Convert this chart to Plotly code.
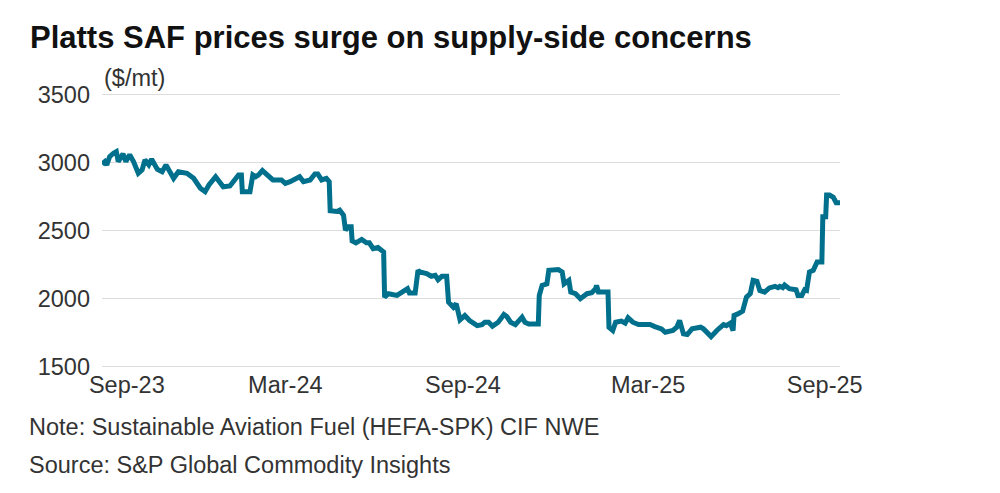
import plotly.graph_objects as go

# Platts SAF (HEFA-SPK) CIF NWE, $/mt
dates = [
    "2023-08-06", "2023-08-09", "2023-08-11", "2023-08-14", "2023-08-18", "2023-08-21",
    "2023-08-23", "2023-08-28", "2023-08-31", "2023-09-04", "2023-09-08", "2023-09-13",
    "2023-09-17", "2023-09-20", "2023-09-24", "2023-09-27", "2023-10-03", "2023-10-08",
    "2023-10-12", "2023-10-20", "2023-10-25", "2023-11-03", "2023-11-10", "2023-11-17",
    "2023-11-22", "2023-11-26", "2023-12-03", "2023-12-11", "2023-12-18", "2023-12-27",
    "2023-12-30", "2023-12-31", "2024-01-08", "2024-01-11", "2024-01-14", "2024-01-17",
    "2024-01-21", "2024-02-01", "2024-02-10", "2024-02-14", "2024-02-19", "2024-02-29",
    "2024-03-04", "2024-03-11", "2024-03-16", "2024-03-19", "2024-03-23", "2024-03-28",
    "2024-03-31", "2024-04-01", "2024-04-08", "2024-04-11", "2024-04-15", "2024-04-17",
    "2024-04-20", "2024-04-23", "2024-04-24", "2024-04-28", "2024-05-04", "2024-05-09",
    "2024-05-12", "2024-05-16", "2024-05-21", "2024-05-27", "2024-05-28", "2024-06-01",
    "2024-06-10", "2024-06-15", "2024-06-21", "2024-06-23", "2024-06-29", "2024-07-02",
    "2024-07-04", "2024-07-11", "2024-07-16", "2024-07-20", "2024-07-23", "2024-07-27",
    "2024-08-01", "2024-08-03", "2024-08-08", "2024-08-11", "2024-08-15", "2024-08-20",
    "2024-08-25", "2024-09-02", "2024-09-07", "2024-09-10", "2024-09-14", "2024-09-18",
    "2024-09-24", "2024-09-30", "2024-10-03", "2024-10-07", "2024-10-12", "2024-10-19",
    "2024-10-22", "2024-10-26", "2024-11-05", "2024-11-06", "2024-11-09", "2024-11-14",
    "2024-11-16", "2024-11-26", "2024-11-30", "2024-12-02", "2024-12-07", "2024-12-09",
    "2024-12-14", "2024-12-19", "2024-12-26", "2024-12-31", "2025-01-04", "2025-01-05",
    "2025-01-07", "2025-01-17", "2025-01-18", "2025-01-22", "2025-01-25", "2025-01-31",
    "2025-02-04", "2025-02-07", "2025-02-12", "2025-02-18", "2025-03-02", "2025-03-07",
    "2025-03-14", "2025-03-18", "2025-03-26", "2025-03-30", "2025-04-02", "2025-04-06",
    "2025-04-10", "2025-04-15", "2025-04-24", "2025-04-27", "2025-05-02", "2025-05-05",
    "2025-05-11", "2025-05-14", "2025-05-18", "2025-05-21", "2025-05-25", "2025-05-28",
    "2025-05-29", "2025-06-02", "2025-06-07", "2025-06-11", "2025-06-15", "2025-06-18",
    "2025-06-22", "2025-06-25", "2025-06-30", "2025-07-05", "2025-07-11", "2025-07-14",
    "2025-07-16", "2025-07-19", "2025-07-21", "2025-07-26", "2025-08-02", "2025-08-04",
    "2025-08-08", "2025-08-11", "2025-08-13", "2025-08-16", "2025-08-20", "2025-08-24",
    "2025-08-29", "2025-08-30", "2025-09-02", "2025-09-03", "2025-09-06", "2025-09-10",
    "2025-09-13", "2025-09-17",
]
prices = [
    2988, 3007, 2983, 3044, 3069, 3081,
    3007, 3064, 3007, 3057, 3007, 2921,
    2946, 3020, 2983, 3025, 2950, 2933,
    2983, 2884, 2933, 2921, 2884, 2811,
    2786, 2835, 2896, 2822, 2828, 2909,
    2909, 2786, 2786, 2909, 2896, 2909,
    2941, 2872, 2872, 2847, 2859, 2896,
    2859, 2872, 2916, 2916, 2872, 2884,
    2859, 2645, 2640, 2650, 2613, 2502,
    2527, 2527, 2424, 2409, 2434, 2409,
    2409, 2367, 2375, 2342, 2010, 2035,
    2022, 2047, 2072, 2040, 2040, 2207,
    2195, 2183, 2163, 2170, 2138, 2163,
    2163, 1973, 1936, 1961, 1843, 1874,
    1837, 1800, 1807, 1825, 1825, 1796,
    1825, 1882, 1867, 1825, 1807, 1862,
    1825, 1812, 1812, 2022, 2096, 2108,
    2207, 2212, 2195, 2108, 2133, 2047,
    2035, 1998, 2035, 2042, 2072, 2096,
    2047, 2047, 1788, 1764, 1825, 1833,
    1818, 1857, 1825, 1808, 1808, 1793,
    1776, 1751, 1764, 1788, 1838, 1739,
    1734, 1776, 1788, 1776, 1739, 1719,
    1764, 1788, 1808, 1800, 1818, 1764,
    1874, 1886, 1906, 2010, 2035, 2133,
    2126, 2059, 2047, 2077, 2089, 2079,
    2089, 2079, 2099, 2072, 2064, 2022,
    2022, 2064, 2059, 2195, 2207, 2269,
    2269, 2601, 2601, 2761, 2761, 2744,
    2704, 2704,
]

# axis labels sit where the reference places them
tick_dates = ["2023-09-01", "2024-02-14", "2024-08-18", "2025-02-28", "2025-09-01"]
tick_labels = ["Sep-23", "Mar-24", "Sep-24", "Mar-25", "Sep-25"]
y_ticks = [1500, 2000, 2500, 3000, 3500]

FONT = "Liberation Sans, Arial, sans-serif"
TEXT = "#333333"
BODY = 23.5

fig = go.Figure()
fig.add_trace(go.Scatter(
    x=dates,
    y=prices,
    mode="lines",
    line=dict(color="#00708c", width=5),
    hoverinfo="x+y",
))

# the page body has an 8px margin, so the figure is 8px smaller than the window
fig.update_layout(
    width=992,
    height=485,
    paper_bgcolor="white",
    plot_bgcolor="white",
    showlegend=False,
    margin=dict(l=94, r=160, t=85, b=125, autoexpand=False),
    font=dict(family=FONT, color=TEXT, size=BODY),
    title=dict(
        text="<b>Platts SAF prices surge on supply-side concerns</b>",
        x=22 / 992, xanchor="left", xref="container",
        y=1 - 29 / 485, yanchor="middle", yref="container",
        font=dict(family=FONT, size=31, color="#111111"),
    ),
)

fig.update_xaxes(
    type="date",
    range=["2023-08-06", "2025-09-17"],
    tickvals=tick_dates,
    ticktext=tick_labels,
    showgrid=False,
    showline=False,
    zeroline=False,
    ticks="",
    automargin=False,
    tickfont=dict(size=BODY, color=TEXT),
)
# a little headroom so plotly keeps the 1500 and 3500 grid lines
fig.update_yaxes(
    range=[1488, 3512],
    tickvals=y_ticks,
    showgrid=True,
    gridcolor="#dddddd",
    gridwidth=1,
    zeroline=False,
    showline=False,
    ticks="",
    automargin=False,
    ticklabelstandoff=11,
    tickfont=dict(size=BODY, color=TEXT),
)

fig.add_annotation(
    text="($/mt)", xref="paper", yref="paper", x=0.0, y=1.0,
    xanchor="left", yanchor="middle", xshift=0, yshift=15, showarrow=False,
    font=dict(size=BODY, color=TEXT),
)
fig.add_annotation(
    text="Note: Sustainable Aviation Fuel (HEFA-SPK) CIF NWE",
    xref="paper", yref="paper", x=0.0, xshift=-75, y=0, yshift=-59,
    xanchor="left", yanchor="middle", showarrow=False,
    font=dict(size=BODY, color=TEXT),
)
fig.add_annotation(
    text="Source: S&P Global Commodity Insights",
    xref="paper", yref="paper", x=0.0, xshift=-75, y=0, yshift=-97,
    xanchor="left", yanchor="middle", showarrow=False,
    font=dict(size=BODY, color=TEXT),
)

fig.write_html("out.html")
